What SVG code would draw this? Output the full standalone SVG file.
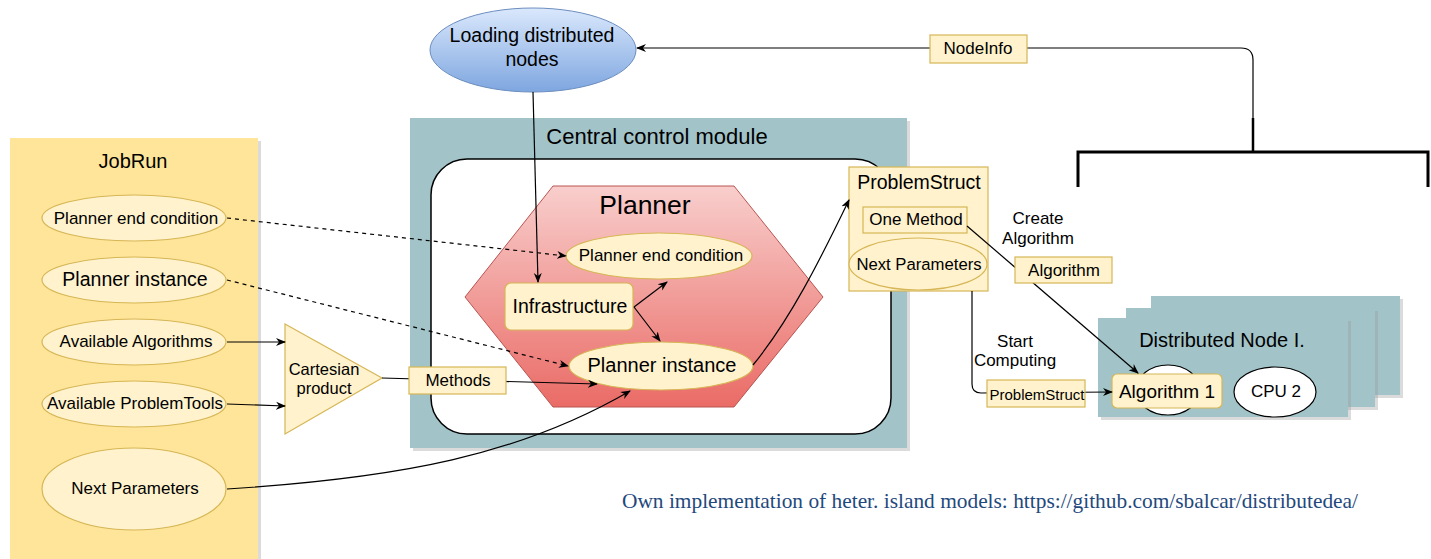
<svg xmlns="http://www.w3.org/2000/svg" width="1431" height="559" viewBox="0 0 1431 559">
<defs>
<linearGradient id="gPlan" x1="0" y1="0" x2="0" y2="1"><stop offset="0" stop-color="#f8cecc"/><stop offset="1" stop-color="#ea6b66"/></linearGradient>
<linearGradient id="gBlue" x1="0" y1="0" x2="0" y2="1"><stop offset="0" stop-color="#dae8fc"/><stop offset="1" stop-color="#7ea6e0"/></linearGradient>
<marker id="arr" viewBox="0 0 10 10" refX="9" refY="5" markerWidth="10" markerHeight="10" markerUnits="userSpaceOnUse" orient="auto"><path d="M0,1 L10,5 L0,9 L3,5 Z" fill="#000"/></marker>
<style>
text{font-family:"Liberation Sans",Arial,sans-serif;fill:#000;text-anchor:middle;dominant-baseline:central}
.y{fill:#fff2cc;stroke:#d6b656;stroke-width:1.2}
.t{fill:#a2c4c9}
.sh{fill:#999;opacity:0.35}
.c{fill:none;stroke:#000;stroke-width:1.2}
.d{fill:none;stroke:#000;stroke-width:1.2;stroke-dasharray:4 4}
</style>
</defs>

<g id="jobrun">
<rect class="sh" x="13" y="141" width="248" height="421"/>
<rect x="10" y="138" width="248" height="421" fill="#ffe599"/>
<text x="133" y="161" font-size="20">JobRun</text>
</g>
<g id="jr-end"><ellipse class="y" cx="134" cy="218" rx="92" ry="23"/><text x="136" y="218" font-size="17">Planner end condition</text></g>
<g id="jr-inst"><ellipse class="y" cx="134" cy="280" rx="92" ry="23"/><text x="135" y="279" font-size="19.5">Planner instance</text></g>
<g id="jr-alg"><ellipse class="y" cx="134" cy="342" rx="92" ry="23"/><text x="136" y="341" font-size="17">Available Algorithms</text></g>
<g id="jr-tools"><ellipse class="y" cx="134" cy="404" rx="92" ry="23"/><text x="135" y="403" font-size="17" textLength="176" lengthAdjust="spacingAndGlyphs">Available ProblemTools</text></g>
<g id="jr-next"><ellipse class="y" cx="134" cy="489" rx="92" ry="41"/><text x="135" y="488" font-size="17">Next Parameters</text></g>

<g id="cartesian">
<polygon class="y" points="285,324 382,378 285,434"/>
<text x="324" y="369" font-size="16.5">Cartesian</text>
<text x="324" y="388" font-size="16.5">product</text>
</g>

<g id="central">
<rect class="sh" x="413" y="121" width="497" height="330"/>
<rect class="t" x="410" y="118" width="497" height="330"/>
<text x="657" y="136" font-size="22">Central control module</text>
<rect x="431" y="159" width="460" height="275" rx="36" fill="#fff" stroke="#000" stroke-width="1.5"/>
</g>

<g id="planner">
<polygon points="465,297 553,186 734,186 823,297 734,407 553,407" fill="url(#gPlan)" stroke="#b85450" stroke-width="1"/>
<text x="645" y="205" font-size="26.5">Planner</text>
</g>
<g id="pl-end"><ellipse class="y" cx="659" cy="256" rx="93" ry="23"/><text x="661" y="255" font-size="17">Planner end condition</text></g>
<g id="infra"><rect class="y" x="505" y="283" width="128" height="47" rx="6"/><text x="570" y="306" font-size="19.5">Infrastructure</text></g>
<g id="pl-inst"><ellipse class="y" cx="661" cy="366" rx="92" ry="24"/><text x="662" y="365" font-size="20">Planner instance</text></g>

<g id="loading">
<ellipse cx="533" cy="50" rx="103" ry="42" fill="url(#gBlue)" stroke="#6c8ebf" stroke-width="1"/>
<text x="532" y="35" font-size="19.5">Loading distributed</text>
<text x="532" y="59" font-size="19.5">nodes</text>
</g>

<g id="problemstruct">
<rect class="y" x="849" y="167" width="139" height="124"/>
<text x="919" y="182" font-size="19.5">ProblemStruct</text>
<rect class="y" x="863" y="207" width="104" height="26"/>
<text x="916" y="219" font-size="17">One Method</text>
<ellipse class="y" cx="918" cy="264" rx="69" ry="26"/>
<text x="919" y="264" font-size="16.7">Next Parameters</text>
</g>

<g id="bracket">
<path d="M1078,187 L1078,152 L1428,152 L1428,187" fill="none" stroke="#000" stroke-width="3"/>
<line x1="1253" y1="118" x2="1253" y2="152" stroke="#000" stroke-width="2.5"/>
</g>

<g id="distributed">
<rect class="sh" x="1154" y="299" width="249" height="99"/>
<rect class="t" x="1151" y="296" width="249" height="99"/>
<rect class="sh" x="1129" y="311" width="249" height="99"/>
<rect class="t" x="1126" y="308" width="249" height="99"/>
<rect class="sh" x="1101" y="321" width="250" height="99"/>
<rect class="t" x="1098" y="318" width="250" height="99"/>
<text x="1222" y="340" font-size="20">Distributed Node I.</text>
<ellipse cx="1168" cy="390" rx="32" ry="25" fill="#fff" stroke="#000" stroke-width="1.2"/>
<ellipse cx="1275" cy="392" rx="41" ry="25" fill="#fff" stroke="#000" stroke-width="1.2"/>
<text x="1276" y="391" font-size="17">CPU 2</text>
</g>
<g id="algorithm1"><rect class="y" x="1112" y="374" width="110" height="34" rx="5"/><text x="1167" y="391" font-size="19">Algorithm 1</text></g>

<g id="connectors">
<line class="c" x1="227" y1="342" x2="285" y2="342" marker-end="url(#arr)"/>
<line class="c" x1="227" y1="404" x2="285" y2="406" marker-end="url(#arr)"/>
<line class="d" x1="227" y1="218" x2="566" y2="256" marker-end="url(#arr)"/>
<line class="d" x1="227" y1="280" x2="568" y2="366" marker-end="url(#arr)"/>
<path class="c" d="M382,378 L597,384" marker-end="url(#arr)"/>
<path class="c" d="M227,489 C400,478 520,455 630,391" marker-end="url(#arr)"/>
<line class="c" x1="533" y1="92" x2="538" y2="282" marker-end="url(#arr)"/>
<line class="c" x1="634" y1="307" x2="667" y2="282" marker-end="url(#arr)"/>
<line class="c" x1="634" y1="307" x2="660" y2="341" marker-end="url(#arr)"/>
<path class="c" d="M753,365 C790,320 820,260 849,200" marker-end="url(#arr)"/>
<path class="c" d="M1253,118 L1253,60 Q1253,48 1241,48 L637,48" marker-end="url(#arr)"/>
<path class="c" d="M967,226 L1138,373" marker-end="url(#arr)"/>
<path class="c" d="M972,291 L972,384 Q972,393 981,393 L1112,392" marker-end="url(#arr)"/>
<g id="lbl-methods"><rect class="y" x="409" y="367" width="97" height="27"/><text x="458" y="380" font-size="17">Methods</text></g>
<g id="lbl-nodeinfo"><rect class="y" x="930" y="35" width="97" height="28"/><text x="978" y="48" font-size="17">NodeInfo</text></g>
<g id="lbl-algorithm"><rect class="y" x="1015" y="257" width="97" height="26"/><text x="1064" y="270" font-size="17">Algorithm</text></g>
<g id="lbl-ps"><rect class="y" x="987" y="380" width="98" height="27"/><text x="1037" y="394" font-size="15">ProblemStruct</text></g>
<text x="1038" y="218" font-size="17">Create</text>
<text x="1038" y="238" font-size="17">Algorithm</text>
<text x="1015" y="341" font-size="17">Start</text>
<text x="1015" y="360" font-size="17">Computing</text>
</g>

<text x="622" y="508" font-size="22" textLength="736" lengthAdjust="spacingAndGlyphs" style="font-family:'Liberation Serif','Times New Roman',serif;text-anchor:start;dominant-baseline:alphabetic;fill:#1f497d">Own implementation of heter. island models: https://github.com/sbalcar/distributedea/</text>
</svg>
